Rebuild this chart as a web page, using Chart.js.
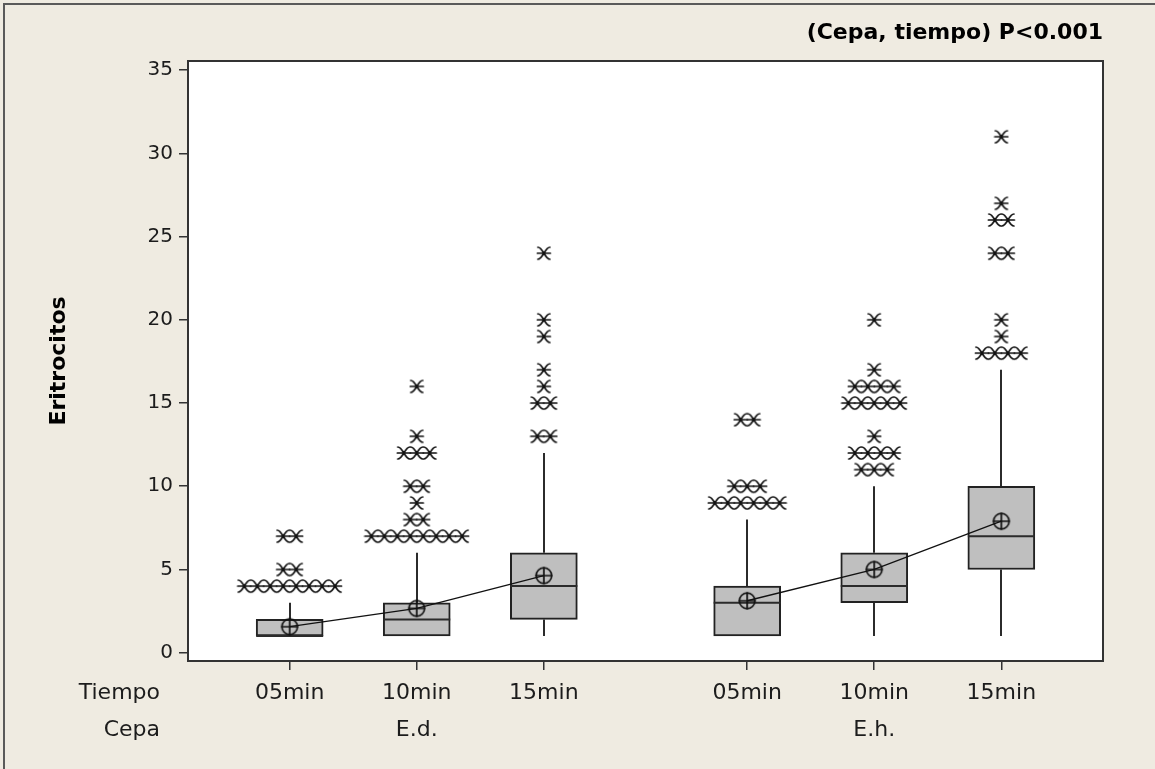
<!DOCTYPE html>
<html>
<head>
<meta charset="utf-8">
<title>Eritrocitos por cepa y tiempo</title>
<script src="https://cdn.jsdelivr.net/npm/chart.js@4.4.1/dist/chart.umd.min.js"></script>
<style>
  html, body { margin: 0; padding: 0; background: #EFEBE1; }
  #wrap { position: relative; width: 1155px; height: 769px; }
  canvas { display: block; }
</style>
</head>
<body>
<div id="wrap"><canvas id="chart" width="1155" height="769"></canvas></div>
<script>
// ---- data -------------------------------------------------------------
const cepas = ['E.d.', 'E.h.'];
const tiempos = ['05min', '10min', '15min'];
const xPos = [1, 2, 3, 4.6, 5.6, 6.6];          // box centres on the x scale
const q1 = [1, 1, 2, 1, 3, 5];
const medians = [1, 2, 4, 3, 4, 7];
const q3 = [2, 3, 6, 4, 6, 10];
const whiskerLow = [1, 1, 1, 1, 1, 1];
const whiskerHigh = [3, 6, 12, 8, 10, 17];
const means = [1.56, 2.66, 4.63, 3.12, 5.0, 7.9];
// outlying observations: value and number of tied observations at that value
const outlierValues = [
  [4, 5, 7],
  [7, 8, 9, 10, 12, 13, 16],
  [13, 15, 16, 17, 19, 20, 24],
  [9, 10, 14],
  [11, 12, 13, 15, 16, 17, 20],
  [18, 19, 20, 24, 26, 27, 31]
];
const outlierCounts = [
  [8, 2, 2],
  [8, 2, 1, 2, 3, 1, 1],
  [2, 2, 1, 1, 1, 1, 1],
  [6, 3, 2],
  [3, 4, 1, 5, 4, 1, 1],
  [4, 1, 1, 2, 2, 1, 1]
];
const yTicks = [0, 5, 10, 15, 20, 25, 30, 35];

// ---- styling ----------------------------------------------------------
const FONT = 'DejaVu Sans';
const INK = '#1c1c1c';
const STAR_STEP = 0.102;   // horizontal step between tied outliers (x units)

// outlier glyph: two curled arms meeting in the middle, crossed by a bar
function makeStar() {
  const c = document.createElement('canvas');
  c.width = 16; c.height = 16;
  const g = c.getContext('2d');
  g.strokeStyle = '#111'; g.lineWidth = 1.7; g.lineCap = 'round';
  g.beginPath();
  g.moveTo(2, 2); g.quadraticCurveTo(4.5, 2, 8, 8); g.quadraticCurveTo(4.5, 14, 2, 14);
  g.moveTo(14, 2); g.quadraticCurveTo(11.5, 2, 8, 8); g.quadraticCurveTo(11.5, 14, 14, 14);
  g.moveTo(1.5, 8); g.lineTo(14.5, 8);
  g.stroke();
  return c;
}
// mean glyph: circle with a cross
function makeMeanSymbol() {
  const c = document.createElement('canvas');
  c.width = 20; c.height = 20;
  const g = c.getContext('2d');
  g.strokeStyle = '#111'; g.lineWidth = 1.7;
  g.beginPath(); g.arc(10, 10, 7.8, 0, Math.PI * 2); g.stroke();
  g.beginPath();
  g.moveTo(10, 1.5); g.lineTo(10, 18.5);
  g.moveTo(1.5, 10); g.lineTo(18.5, 10);
  g.stroke();
  return c;
}
const starGlyph = makeStar();
const meanGlyph = makeMeanSymbol();

// ---- derived series ----------------------------------------------------
const boxData = xPos.map((x, i) => ({ x: x, y: [q1[i], q3[i]] }));
const outlierPoints = [];
outlierValues.forEach((vals, g) => vals.forEach((v, k) => {
  const n = outlierCounts[g][k];
  for (let i = 0; i < n; i++) {
    outlierPoints.push({ x: xPos[g] + (i - (n - 1) / 2) * STAR_STEP, y: v });
  }
}));
const meanSeries = cepas.map((c, gi) =>
  tiempos.map((t, ti) => ({ x: xPos[gi * 3 + ti], y: means[gi * 3 + ti] })));

// ---- plugins -----------------------------------------------------------
const backdrop = {
  id: 'backdrop',
  beforeDraw(chart) {
    const { ctx, chartArea: a, width, height } = chart;
    ctx.save();
    ctx.fillStyle = '#EFEBE1';
    ctx.fillRect(0, 0, width, height);
    ctx.strokeStyle = '#5a5a5a'; ctx.lineWidth = 2;
    ctx.beginPath();
    ctx.moveTo(4, height); ctx.lineTo(4, 4); ctx.lineTo(width, 4);
    ctx.stroke();
    ctx.fillStyle = '#ffffff';
    ctx.fillRect(a.left, a.top, a.right - a.left, a.bottom - a.top);
    ctx.restore();
  },
  afterDraw(chart) {
    const { ctx, chartArea: a } = chart;
    ctx.save();
    ctx.strokeStyle = '#333'; ctx.lineWidth = 2;
    ctx.strokeRect(a.left, a.top, a.right - a.left, a.bottom - a.top);
    // row captions for the two-level x axis
    const xs = chart.scales.x;
    const o = xs.options;
    const fs = o.ticks.font.size;
    const lh = fs * o.ticks.font.lineHeight;
    const y0 = xs.top + o.grid.tickLength + o.ticks.padding;
    ctx.fillStyle = INK;
    ctx.font = fs + 'px "' + FONT + '"';
    ctx.textAlign = 'right';
    ctx.textBaseline = 'middle';
    ctx.fillText('Tiempo', 160, y0 + lh / 2);
    ctx.fillText('Cepa', 160, y0 + lh * 1.5);
    ctx.restore();
  }
};

const boxParts = {
  id: 'boxParts',
  beforeDatasetsDraw(chart) {
    const { ctx, scales: { x, y } } = chart;
    ctx.save();
    ctx.strokeStyle = '#2b2b2b'; ctx.lineWidth = 2;
    ctx.beginPath();
    xPos.forEach((xv, i) => {
      const px = Math.round(x.getPixelForValue(xv));
      ctx.moveTo(px, y.getPixelForValue(whiskerHigh[i]));
      ctx.lineTo(px, y.getPixelForValue(q3[i]));
      ctx.moveTo(px, y.getPixelForValue(q1[i]));
      ctx.lineTo(px, y.getPixelForValue(whiskerLow[i]));
    });
    ctx.stroke();
    ctx.restore();
  },
  afterDatasetDraw(chart, args) {
    if (args.index !== 0) return;
    const { ctx, scales: { y } } = chart;
    const meta = chart.getDatasetMeta(0);
    ctx.save();
    ctx.strokeStyle = '#2b2b2b'; ctx.lineWidth = 2;
    ctx.beginPath();
    meta.data.forEach((bar, i) => {
      const half = bar.width / 2;
      const py = y.getPixelForValue(medians[i]);
      ctx.moveTo(bar.x - half, py);
      ctx.lineTo(bar.x + half, py);
    });
    ctx.stroke();
    ctx.restore();
  }
};

// ---- chart -------------------------------------------------------------
new Chart(document.getElementById('chart'), {
  type: 'bar',
  data: {
    datasets: [
      {
        type: 'bar',
        data: boxData,
        backgroundColor: '#BFBFBF',
        borderColor: '#222',
        borderWidth: 2,
        borderSkipped: false,
        barThickness: 67,
        grouped: false,
        order: 3
      },
      ...meanSeries.map(s => ({
        type: 'line',
        data: s,
        borderColor: '#111',
        borderWidth: 1.3,
        pointStyle: meanGlyph,
        pointRadius: 9,
        fill: false,
        tension: 0,
        order: 2
      })),
      {
        type: 'scatter',
        data: outlierPoints,
        pointStyle: starGlyph,
        pointRadius: 8,
        showLine: false,
        order: 1
      }
    ]
  },
  options: {
    responsive: false,
    animation: false,
    events: [],
    layout: { padding: { top: 10, left: 46, right: 52, bottom: 0 } },
    plugins: {
      legend: { display: false },
      tooltip: { enabled: false },
      title: {
        display: true,
        text: '(Cepa, tiempo) P<0.001',
        align: 'end',
        color: '#000',
        font: { family: FONT, size: 22, weight: 'bold', lineHeight: 1.2 },
        padding: { top: 10, bottom: 14.6 }
      }
    },
    scales: {
      x: {
        type: 'linear',
        min: 0.2,
        max: 7.4,
        offset: false,
        afterBuildTicks: s => { s.ticks = xPos.map(v => ({ value: v })); },
        afterFit: s => { s.height = 108; },
        border: { display: false },
        grid: { drawOnChartArea: false, drawTicks: true, tickLength: 9, color: '#333', lineWidth: 1.5, offset: false },
        ticks: {
          autoSkip: false,
          maxRotation: 0,
          padding: 5,
          color: INK,
          font: { family: FONT, size: 22, lineHeight: 1.68 },
          callback: (v, i) => [tiempos[i % 3], i % 3 === 1 ? cepas[Math.floor(i / 3)] : '']
        }
      },
      y: {
        type: 'linear',
        min: -0.5,
        max: 35.55,
        afterBuildTicks: s => { s.ticks = yTicks.map(v => ({ value: v })); },
        afterFit: s => { s.width = 142; },
        border: { display: false },
        grid: { drawOnChartArea: false, drawTicks: true, tickLength: 9, color: '#333', lineWidth: 1.5 },
        ticks: {
          padding: 6,
          color: INK,
          font: { family: FONT, size: 20 }
        },
        title: {
          display: true,
          text: 'Eritrocitos',
          color: '#000',
          font: { family: FONT, size: 22, weight: 'bold' },
          padding: { top: 0, bottom: 0 }
        }
      }
    }
  },
  plugins: [backdrop, boxParts]
});
</script>
</body>
</html>
